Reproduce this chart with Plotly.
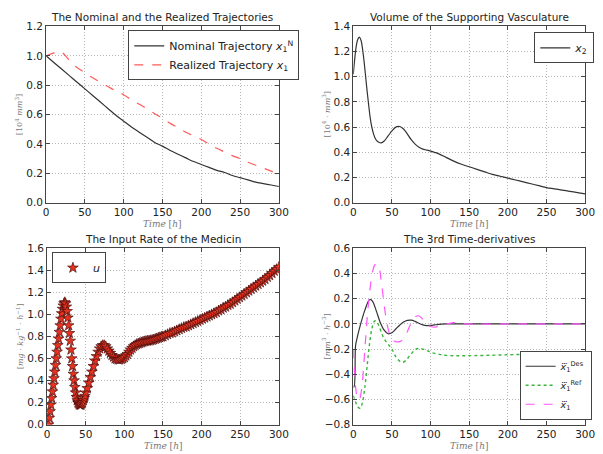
import plotly.graph_objects as go

# ---------------- data ----------------
t_nom = [0, 10, 20, 30, 40, 50, 60, 70, 80, 90, 100, 110, 120, 130, 140, 150, 160, 170, 180, 190,
         200, 210, 220, 230, 240, 250, 260, 270, 280, 290, 300]
x1_nominal = [1.0, 0.955, 0.91, 0.865, 0.82, 0.775, 0.73, 0.685, 0.64, 0.595, 0.555, 0.515, 0.48,
              0.445, 0.41, 0.385, 0.355, 0.33, 0.305, 0.28, 0.26, 0.24, 0.22, 0.205, 0.185, 0.17,
              0.155, 0.14, 0.13, 0.12, 0.11]

t_real = [0, 5, 10, 15, 20, 25, 30, 35, 40, 50, 60, 70, 80, 90, 100, 110, 120, 130, 140, 150, 160,
          170, 180, 190, 200, 210, 220, 230, 240, 250, 260, 270, 280, 290, 300]
x1_realized = [1.0, 1.01, 1.02, 1.03, 1.025, 1.0, 0.97, 0.94, 0.92, 0.885, 0.85, 0.82, 0.79, 0.76,
               0.735, 0.70, 0.67, 0.64, 0.605, 0.575, 0.54, 0.51, 0.48, 0.455, 0.43, 0.40, 0.37,
               0.345, 0.32, 0.30, 0.275, 0.255, 0.235, 0.215, 0.195]

t_x2 = [0, 2, 4, 6, 8, 10, 12, 14, 16, 18, 20, 22, 24, 26, 28, 30, 33, 36, 40, 45, 50, 55, 60, 65,
        70, 75, 80, 85, 90, 95, 100, 105, 110, 120, 130, 140, 150, 160, 170, 180, 190, 200, 210,
        220, 230, 240, 250, 260, 270, 280, 290, 300]
x2 = [1.02, 1.15, 1.25, 1.30, 1.315, 1.29, 1.22, 1.12, 1.0, 0.88, 0.77, 0.67, 0.60, 0.55, 0.515,
      0.495, 0.48, 0.475, 0.49, 0.53, 0.57, 0.60, 0.605, 0.585, 0.545, 0.50, 0.465, 0.44, 0.425,
      0.418, 0.41, 0.40, 0.39, 0.36, 0.33, 0.305, 0.285, 0.265, 0.245, 0.225, 0.21, 0.195, 0.18,
      0.165, 0.15, 0.135, 0.12, 0.11, 0.10, 0.09, 0.08, 0.07]

t_u = (list(range(2, 51)) + list(range(52, 151, 2)) + list(range(153, 301, 3)))
u = [0.00, 0.06, 0.12, 0.18, 0.24, 0.30, 0.36, 0.42, 0.48, 0.54, 0.60, 0.66, 0.72, 0.78, 0.84,
     0.90, 0.96, 1.01, 1.05, 1.08, 1.10, 1.11, 1.10, 1.07, 1.03, 0.97, 0.90, 0.83, 0.76, 0.68,
     0.60, 0.53, 0.46, 0.40, 0.34, 0.29, 0.25, 0.22, 0.20, 0.19, 0.18, 0.18, 0.18, 0.19, 0.20,
     0.22, 0.24, 0.26, 0.29,
     0.33, 0.38, 0.43, 0.48, 0.53, 0.58, 0.62, 0.66, 0.69, 0.71, 0.72, 0.72, 0.71, 0.69, 0.67,
     0.65, 0.63, 0.615, 0.60, 0.595, 0.59, 0.59, 0.595, 0.60, 0.61, 0.625, 0.64, 0.66, 0.68,
     0.695, 0.71, 0.72, 0.73, 0.735, 0.74, 0.745, 0.75, 0.755, 0.758, 0.76, 0.762, 0.765, 0.768,
     0.772, 0.777, 0.782, 0.787, 0.792, 0.797, 0.80,
     0.81, 0.82, 0.83, 0.835, 0.845, 0.855, 0.865, 0.875, 0.885, 0.89, 0.90, 0.91, 0.92, 0.93,
     0.94, 0.95, 0.96, 0.97, 0.98, 0.99, 1.00, 1.01, 1.02, 1.035, 1.045, 1.06, 1.07, 1.085,
     1.095, 1.11, 1.125, 1.14, 1.155, 1.17, 1.185, 1.20, 1.215, 1.23, 1.245, 1.26, 1.275, 1.29,
     1.305, 1.32, 1.34, 1.355, 1.375, 1.395, 1.41, 1.43]

t_des = [0, 1, 3, 5, 10, 15, 20, 22, 25, 30, 35, 40, 45, 50, 55, 60, 65, 70, 75, 80, 85, 90, 95,
         100, 105, 110, 120, 150, 200, 250, 300]
x1_des = [-0.5, -0.5, -0.17, -0.11, 0.01, 0.11, 0.185, 0.195, 0.18, 0.10, 0.01, -0.05, -0.078,
          -0.07, -0.04, -0.01, 0.015, 0.028, 0.03, 0.02, 0.005, -0.008, -0.013, -0.012, -0.008,
          -0.004, 0.0, 0.0, 0.0, 0.0, 0.0]

t_ref = [0, 3, 6, 9, 12, 15, 18, 21, 24, 27, 29, 32, 36, 40, 45, 50, 55, 60, 64, 68, 72, 76, 80,
         85, 90, 95, 100, 110, 120, 150, 200, 250, 300]
x1_ref = [-0.57, -0.62, -0.66, -0.67, -0.62, -0.5, -0.33, -0.16, -0.04, 0.02, 0.025, 0.0, -0.06,
          -0.12, -0.16, -0.2, -0.26, -0.295, -0.305, -0.29, -0.26, -0.23, -0.205, -0.195, -0.2,
          -0.21, -0.225, -0.24, -0.25, -0.252, -0.245, -0.235, -0.22]

t_x1d = [0, 3, 6, 8, 10, 12, 15, 18, 20, 24, 28, 31, 34, 37, 40, 43, 46, 50, 55, 60, 65, 70, 75,
         80, 84, 88, 92, 96, 100, 106, 112, 118, 125, 130, 140, 150, 200, 250, 300]
x1_ddd = [-0.2, -0.5, -0.6, -0.6, -0.55, -0.45, -0.2, 0.05, 0.18, 0.38, 0.47, 0.476, 0.43, 0.3,
          0.15, 0.02, -0.06, -0.12, -0.14, -0.14, -0.12, -0.06, 0.01, 0.055, 0.065, 0.05, 0.02,
          -0.01, -0.02, -0.025, -0.015, -0.005, 0.005, 0.01, 0.005, 0.0, 0.0, 0.0, 0.0]

titles = ["The Nominal and the Realized Trajectories", "Volume of the Supporting Vasculature",
          "The Input Rate of the Medicin", "The 3rd Time-derivatives"]
ylabels = ["[10<sup>4</sup> <i>mm</i><sup>3</sup>]", "[10<sup>4</sup> · <i>mm</i><sup>3</sup>]",
           "[<i>mg</i> · <i>kg</i><sup>−1</sup> · <i>h</i><sup>−1</sup>]",
           "[<i>mm</i><sup>3</sup> · <i>h</i><sup>−3</sup>]"]
xlabel = "<i>Time</i> [<i>h</i>]"

# ---------------- figure ----------------
W, H = 603, 454
fig = go.Figure()

# panel pixel boxes: (left, right, top, bottom)
boxes = [(44, 282, 21, 202), (358, 595, 21, 202), (45, 282, 249, 430), (358, 595, 249, 430)]
yranges = [(0, 1.2), (0, 1.4), (0, 1.6), (-0.8, 0.6)]

axis_common = dict(showline=True, linecolor="#444", linewidth=1, mirror="ticks",
                   ticks="inside", ticklen=4, tickcolor="#444",
                   showgrid=True, gridcolor="#b5b5b5", griddash="1px,2px", gridwidth=1,
                   zeroline=False, tickfont=dict(family="DejaVu Sans", size=10.5, color="#222"))

layout = dict(width=W, height=H, margin=dict(l=0, r=0, t=0, b=0),
              paper_bgcolor="white", plot_bgcolor="white", showlegend=True)
annotations = []
for i, (l, r, tp, b) in enumerate(boxes):
    n = "" if i == 0 else str(i + 1)
    layout["xaxis" + n] = dict(domain=[l / W, r / W], range=[0, 300], dtick=50,
                               anchor="y" + n, **axis_common)
    layout["yaxis" + n] = dict(domain=[1 - b / H, 1 - tp / H], range=list(yranges[i]),
                               dtick=0.2, tickformat=".1f", anchor="x" + n, **axis_common)
    cx = (l + r) / 2 / W
    annotations.append(dict(text=titles[i], x=cx, y=1 - (tp - 10) / H, xref="paper", yref="paper",
                            showarrow=False, xanchor="center", yanchor="middle",
                            font=dict(family="DejaVu Sans", size=10.5, color="#222")))
    annotations.append(dict(text=xlabel, x=cx, y=1 - (b + 22) / H, xref="paper", yref="paper",
                            showarrow=False, xanchor="center", yanchor="middle",
                            font=dict(family="DejaVu Serif", size=9, color="#777")))
    annotations.append(dict(text=ylabels[i], x=(l - 28) / W, y=1 - (tp + b) / 2 / H,
                            xref="paper", yref="paper", showarrow=False, textangle=-90,
                            xanchor="center", yanchor="middle",
                            font=dict(family="DejaVu Serif", size=8, color="#777")))
layout["annotations"] = annotations

legend_common = dict(bgcolor="white", bordercolor="#444", borderwidth=1, xanchor="left")
lf = dict(family="DejaVu Sans", size=11, color="#222")
layout["legend"] = dict(x=128 / W, y=1 - 25 / H, yanchor="top", font=lf, **legend_common)
layout["legend2"] = dict(x=543 / W, y=1 - 27 / H, yanchor="top", font=lf, **legend_common)
layout["legend3"] = dict(x=50 / W, y=1 - 253 / H, yanchor="top", font=lf, **legend_common)
layout["legend4"] = dict(x=528 / W, y=1 - 425 / H, yanchor="bottom", tracegroupgap=0,
                         font=dict(family="DejaVu Sans", size=9.5, color="#222"), **legend_common)
fig.update_layout(**layout)

fig.add_trace(go.Scatter(x=t_nom, y=x1_nominal, mode="lines", line=dict(color="#333", width=1.2, shape="spline"),
                         name="Nominal Trajectory <i>x</i><sub>1</sub><sup>N</sup>",
                         xaxis="x", yaxis="y", legend="legend"))
fig.add_trace(go.Scatter(x=t_real, y=x1_realized, mode="lines",
                         line=dict(color="#ff5a5a", width=1.2, dash="dash", shape="spline"),
                         name="Realized Trajectory <i>x</i><sub>1</sub>",
                         xaxis="x", yaxis="y", legend="legend"))
fig.add_trace(go.Scatter(x=t_x2, y=x2, mode="lines", line=dict(color="#333", width=1.2, shape="spline"),
                         name="<i>x</i><sub>2</sub>", xaxis="x2", yaxis="y2", legend="legend2"))
fig.add_trace(go.Scatter(x=t_u, y=u, mode="markers",
                         marker=dict(symbol="star", size=8, color="#e8321e",
                                     line=dict(color="#4a1010", width=0.7)),
                         name="<i>u</i>", xaxis="x3", yaxis="y3", legend="legend3"))
fig.add_trace(go.Scatter(x=t_des, y=x1_des, mode="lines", line=dict(color="#333", width=1.2, shape="spline"),
                         name="<i>x⃛</i><sub>1</sub><sup>Des</sup>", xaxis="x4", yaxis="y4", legend="legend4"))
fig.add_trace(go.Scatter(x=t_ref, y=x1_ref, mode="lines",
                         line=dict(color="#3cb43c", width=1.4, dash="dot", shape="spline"),
                         name="<i>x⃛</i><sub>1</sub><sup>Ref</sup>", xaxis="x4", yaxis="y4", legend="legend4"))
fig.add_trace(go.Scatter(x=t_x1d, y=x1_ddd, mode="lines",
                         line=dict(color="#ff55ff", width=1.2, dash="dash", shape="spline"),
                         name="<i>x⃛</i><sub>1</sub>", xaxis="x4", yaxis="y4", legend="legend4"))

fig.write_html("out.html")
